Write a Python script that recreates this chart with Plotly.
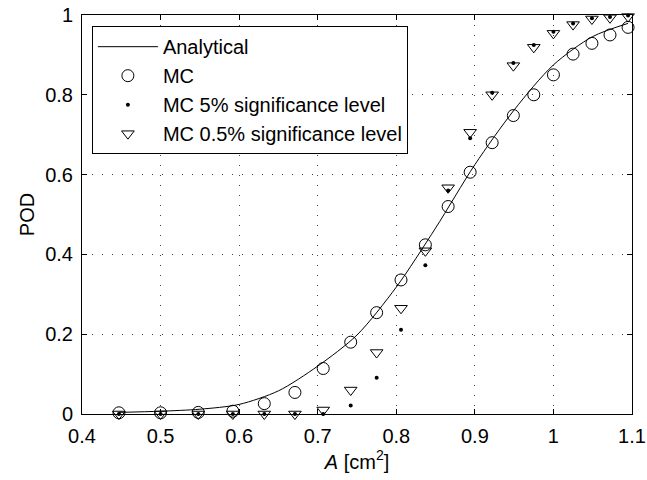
import plotly.graph_objects as go

# ---- data ----
area_mc = [0.447, 0.500, 0.548, 0.592, 0.632, 0.671, 0.707, 0.742, 0.775, 0.806,
           0.837, 0.866, 0.894, 0.922, 0.949, 0.975, 1.000, 1.025, 1.049, 1.072, 1.095]
pod_mc = [0.003, 0.003, 0.004, 0.007, 0.026, 0.054, 0.114, 0.180, 0.254, 0.336,
          0.424, 0.520, 0.606, 0.680, 0.748, 0.800, 0.850, 0.902, 0.929, 0.950, 0.969]
pod_5pct = [0.0, 0.0, 0.0, 0.0, 0.0, 0.0, 0.0, 0.021, 0.091, 0.211,
            0.373, 0.560, 0.691, 0.805, 0.880, 0.925, 0.958, 0.979, 0.992, 0.995, 0.999]
pod_05pct = [0.0, 0.0, 0.0, 0.0, 0.0, 0.0, 0.010, 0.060, 0.154, 0.265,
             0.409, 0.567, 0.706, 0.800, 0.873, 0.919, 0.954, 0.976, 0.990, 0.993, 0.996]

area_analytical = [0.447, 0.50, 0.55, 0.60, 0.65, 0.70, 0.75, 0.80, 0.85, 0.90,
                   0.95, 1.00, 1.05, 1.095]
pod_analytical = [0.004, 0.007, 0.012, 0.024, 0.058, 0.120, 0.198, 0.318, 0.466, 0.625,
                  0.762, 0.875, 0.946, 0.979]

x_ticks = [0.4, 0.5, 0.6, 0.7, 0.8, 0.9, 1.0, 1.1]
x_ticklabels = ["0.4", "0.5", "0.6", "0.7", "0.8", "0.9", "1", "1.1"]
y_ticks = [0, 0.2, 0.4, 0.6, 0.8, 1.0]
y_ticklabels = ["0", "0.2", "0.4", "0.6", "0.8", "1"]

FONT = "Liberation Sans, Arial, Helvetica, sans-serif"
FS = 20

fig = go.Figure()
fig.add_trace(go.Scatter(
    x=area_analytical, y=pod_analytical, mode="lines", name="Analytical",
    line=dict(color="black", width=1, shape="spline", smoothing=0.8)))
fig.add_trace(go.Scatter(
    x=area_mc, y=pod_mc, mode="markers", name="MC",
    marker=dict(symbol="circle-open", size=12, color="black", line=dict(width=1, color="black")),
    cliponaxis=False))
fig.add_trace(go.Scatter(
    x=area_mc, y=pod_5pct, mode="markers", name="MC 5% significance level",
    marker=dict(symbol="circle", size=4, color="black"),
    cliponaxis=False))
fig.add_trace(go.Scatter(
    x=area_mc, y=pod_05pct, mode="markers", name="MC 0.5% significance level",
    marker=dict(symbol="triangle-down-open", size=11, color="black", line=dict(width=1, color="black")),
    cliponaxis=False))

axis_common = dict(
    showline=True, linecolor="black", linewidth=1, mirror="ticks",
    ticks="inside", ticklen=5, tickcolor="black", tickwidth=1,
    showgrid=True, gridcolor="#444444", gridwidth=1, griddash="1px,9px",
    zeroline=False, automargin=False,
    tickfont=dict(family=FONT, size=FS, color="black"),
)

fig.update_xaxes(range=[0.4, 1.1], tickvals=x_ticks, ticktext=x_ticklabels,
                 title=dict(text="<i>A</i> [cm<sup>2</sup>]", font=dict(family=FONT, size=FS, color="black"),
                            standoff=8),
                 ticklabelstandoff=4,
                 **axis_common)
fig.update_yaxes(range=[0, 1], tickvals=y_ticks, ticktext=y_ticklabels,
                 title=dict(text="POD", font=dict(family=FONT, size=FS, color="black"), standoff=5),
                 ticklabelstandoff=4,
                 **axis_common)

fig.update_layout(
    width=647, height=480,
    margin=dict(l=82, r=15, t=15, b=66),
    paper_bgcolor="white", plot_bgcolor="white",
    font=dict(family=FONT, size=FS, color="black"),
    showlegend=True,
    legend=dict(x=0.018, y=0.972, xanchor="left", yanchor="top",
                bgcolor="white", bordercolor="black", borderwidth=1,
                font=dict(family=FONT, size=20, color="black"),
                itemwidth=60),
)

# remove the browser's default page margin so the 647x480 figure fills the window exactly
fig.write_html("out.html", config={"displayModeBar": False},
               post_script="document.body.style.margin='0';")
